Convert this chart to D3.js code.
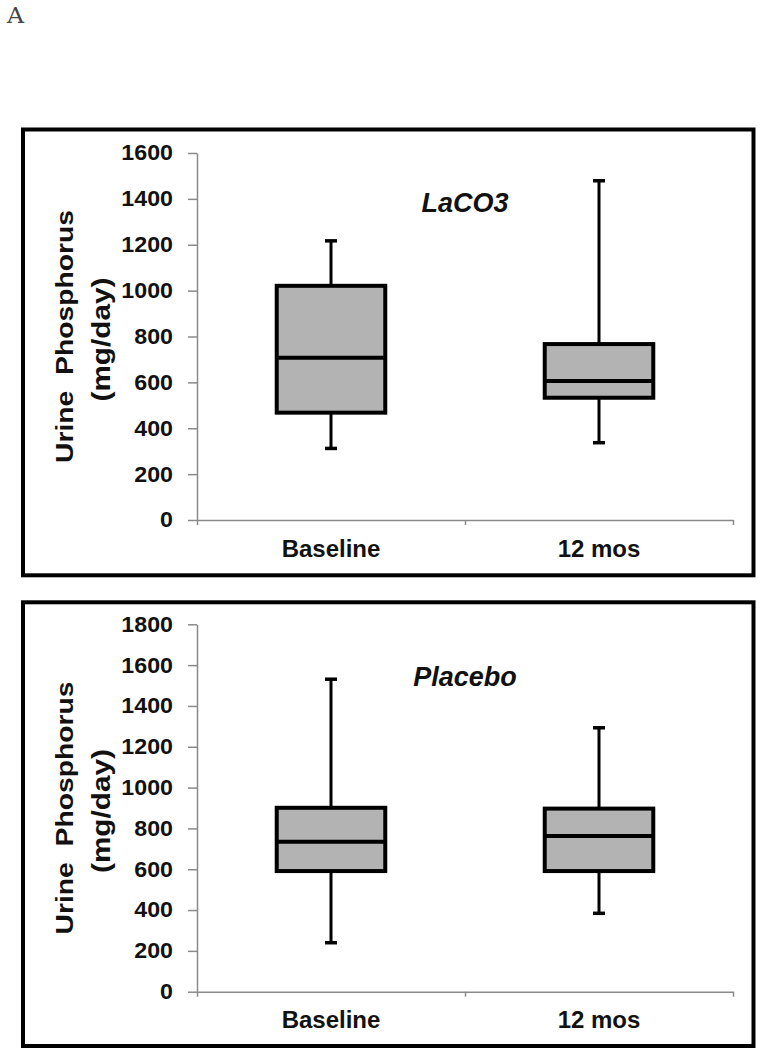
<!DOCTYPE html>
<html>
<head>
<meta charset="utf-8">
<script src="https://cdn.jsdelivr.net/npm/d3@7"></script>
<style>
  html, body { margin: 0; padding: 0; background: #fff; }
  text { font-family: "Liberation Sans", Arial, sans-serif; }
</style>
</head>
<body>
<script>
// ---- Data ----
const categories = ["Baseline", "12 mos"];

const laco3Min    = [312, 337];
const laco3Q1     = [468, 533];
const laco3Median = [707, 606];
const laco3Q3     = [1021, 767];
const laco3Max    = [1217, 1479];

const placeboMin    = [240, 384];
const placeboQ1     = [591, 591];
const placeboMedian = [735, 763];
const placeboQ3     = [901, 897];
const placeboMax    = [1531, 1293];

const laco3Ticks   = [0, 200, 400, 600, 800, 1000, 1200, 1400, 1600];
const placeboTicks = [0, 200, 400, 600, 800, 1000, 1200, 1400, 1600, 1800];

const panelTitles = ["LaCO3", "Placebo"];
const yLabel1 = "Urine\u00a0\u00a0Phosphorus";
const yLabel2 = "(mg/day)";

// ---- Layout ----
const W = 775, H = 1050;
const svg = d3.select("body").append("svg").attr("width", W).attr("height", H);
svg.append("rect").attr("width", W).attr("height", H).attr("fill", "#fff");

svg.append("text")
  .attr("x", 7).attr("y", 23)
  .style("font-family", "'DejaVu Serif', 'Liberation Serif', serif")
  .style("font-size", "22px")
  .attr("textLength", 17).attr("lengthAdjust", "spacingAndGlyphs")
  .attr("fill", "#444")
  .text("A");

const panels = [
  { title: panelTitles[0], ticks: laco3Ticks, mins: laco3Min, q1: laco3Q1, med: laco3Median, q3: laco3Q3, maxs: laco3Max,
    frame: { x: 23, y: 129.5, w: 730.5, h: 445.8 }, plotTop: 153, plotBottom: 520, titleY: 211.7 },
  { title: panelTitles[1], ticks: placeboTicks, mins: placeboMin, q1: placeboQ1, med: placeboMedian, q3: placeboQ3, maxs: placeboMax,
    frame: { x: 23, y: 602.3, w: 730.5, h: 443.7 }, plotTop: 624.3, plotBottom: 991.7, titleY: 686 }
];

const xLeft = 197, xRight = 733;
const axisColor = "#8a8a8a";

panels.forEach(p => {
  const g = svg.append("g");

  // frame
  g.append("rect")
    .attr("x", p.frame.x).attr("y", p.frame.y)
    .attr("width", p.frame.w).attr("height", p.frame.h)
    .attr("fill", "none").attr("stroke", "#000").attr("stroke-width", 4);

  const y = d3.scaleLinear()
    .domain([0, d3.max(p.ticks)])
    .range([p.plotBottom, p.plotTop]);

  const x = d3.scaleBand().domain(categories).range([xLeft, xRight]).padding(0);

  // y axis
  const yAxis = g.append("g")
    .attr("transform", `translate(${xLeft},0)`)
    .call(d3.axisLeft(y).tickValues(p.ticks).tickSizeInner(9).tickSizeOuter(0).tickPadding(15).tickFormat(d3.format("d")));
  yAxis.select(".domain").attr("stroke", axisColor).attr("stroke-width", 1.5);
  yAxis.selectAll(".tick line").attr("stroke", axisColor).attr("stroke-width", 1.5);
  yAxis.selectAll(".tick text")
    .style("font-size", "21.5px").style("font-weight", "bold").attr("fill", "#111")
    .each(function() {
      const t = d3.select(this);
      const xx = +t.attr("x");
      t.attr("x", null).attr("transform", `translate(${xx},0) scale(1.08,1)`);
    });

  // x axis line with boundary ticks
  const xb = d3.scaleLinear().domain([0, categories.length]).range([xLeft, xRight]);
  const xAxis = g.append("g")
    .attr("transform", `translate(0,${p.plotBottom})`)
    .call(d3.axisBottom(xb).tickValues(d3.range(categories.length + 1)).tickSizeInner(5).tickSizeOuter(0).tickFormat(""));
  xAxis.select(".domain").attr("stroke", axisColor).attr("stroke-width", 1.5);
  xAxis.selectAll(".tick line").attr("stroke", axisColor).attr("stroke-width", 1.5);

  // category labels
  const xLab = g.append("g")
    .attr("transform", `translate(0,${p.plotBottom})`)
    .call(d3.axisBottom(x).tickSize(0).tickPadding(0));
  xLab.select(".domain").remove();
  xLab.selectAll(".tick text")
    .attr("y", 36.7).attr("dy", null)
    .style("font-size", "24px").style("font-weight", "bold").attr("fill", "#111");

  // y label
  const cy = (p.plotTop + p.plotBottom) / 2;
  g.append("text")
    .attr("transform", `translate(73,${cy}) rotate(-90)`)
    .attr("text-anchor", "middle")
    .attr("textLength", 253).attr("lengthAdjust", "spacingAndGlyphs")
    .style("font-size", "24px").style("font-weight", "bold").attr("fill", "#111")
    .text(yLabel1);
  g.append("text")
    .attr("transform", `translate(109.5,${cy + 3}) rotate(-90)`)
    .attr("text-anchor", "middle")
    .attr("textLength", 124).attr("lengthAdjust", "spacingAndGlyphs")
    .style("font-size", "25px").style("font-weight", "bold").attr("fill", "#111")
    .text(yLabel2);

  // title
  g.append("text")
    .attr("x", (xLeft + xRight) / 2)
    .attr("y", p.titleY)
    .attr("text-anchor", "middle")
    .style("font-size", "27px").style("font-weight", "bold").style("font-style", "italic")
    .attr("fill", "#111")
    .text(p.title);

  // boxes
  const boxW = x.bandwidth() * 0.405;
  const capW = 12;
  categories.forEach((c, i) => {
    const cx = x(c) + x.bandwidth() / 2;
    // whiskers
    g.append("line").attr("x1", cx).attr("x2", cx)
      .attr("y1", y(p.maxs[i])).attr("y2", y(p.q3[i]))
      .attr("stroke", "#000").attr("stroke-width", 3);
    g.append("line").attr("x1", cx).attr("x2", cx)
      .attr("y1", y(p.q1[i])).attr("y2", y(p.mins[i]))
      .attr("stroke", "#000").attr("stroke-width", 3);
    // caps
    [p.maxs[i], p.mins[i]].forEach(v => {
      g.append("line").attr("x1", cx - capW / 2).attr("x2", cx + capW / 2)
        .attr("y1", y(v)).attr("y2", y(v))
        .attr("stroke", "#000").attr("stroke-width", 3.5);
    });
    // box
    g.append("rect")
      .attr("x", cx - boxW / 2).attr("y", y(p.q3[i]))
      .attr("width", boxW).attr("height", y(p.q1[i]) - y(p.q3[i]))
      .attr("fill", "#b3b3b3").attr("stroke", "#000").attr("stroke-width", 4);
    // median
    g.append("line").attr("x1", cx - boxW / 2).attr("x2", cx + boxW / 2)
      .attr("y1", y(p.med[i])).attr("y2", y(p.med[i]))
      .attr("stroke", "#000").attr("stroke-width", 4);
  });
});
</script>
</body>
</html>
